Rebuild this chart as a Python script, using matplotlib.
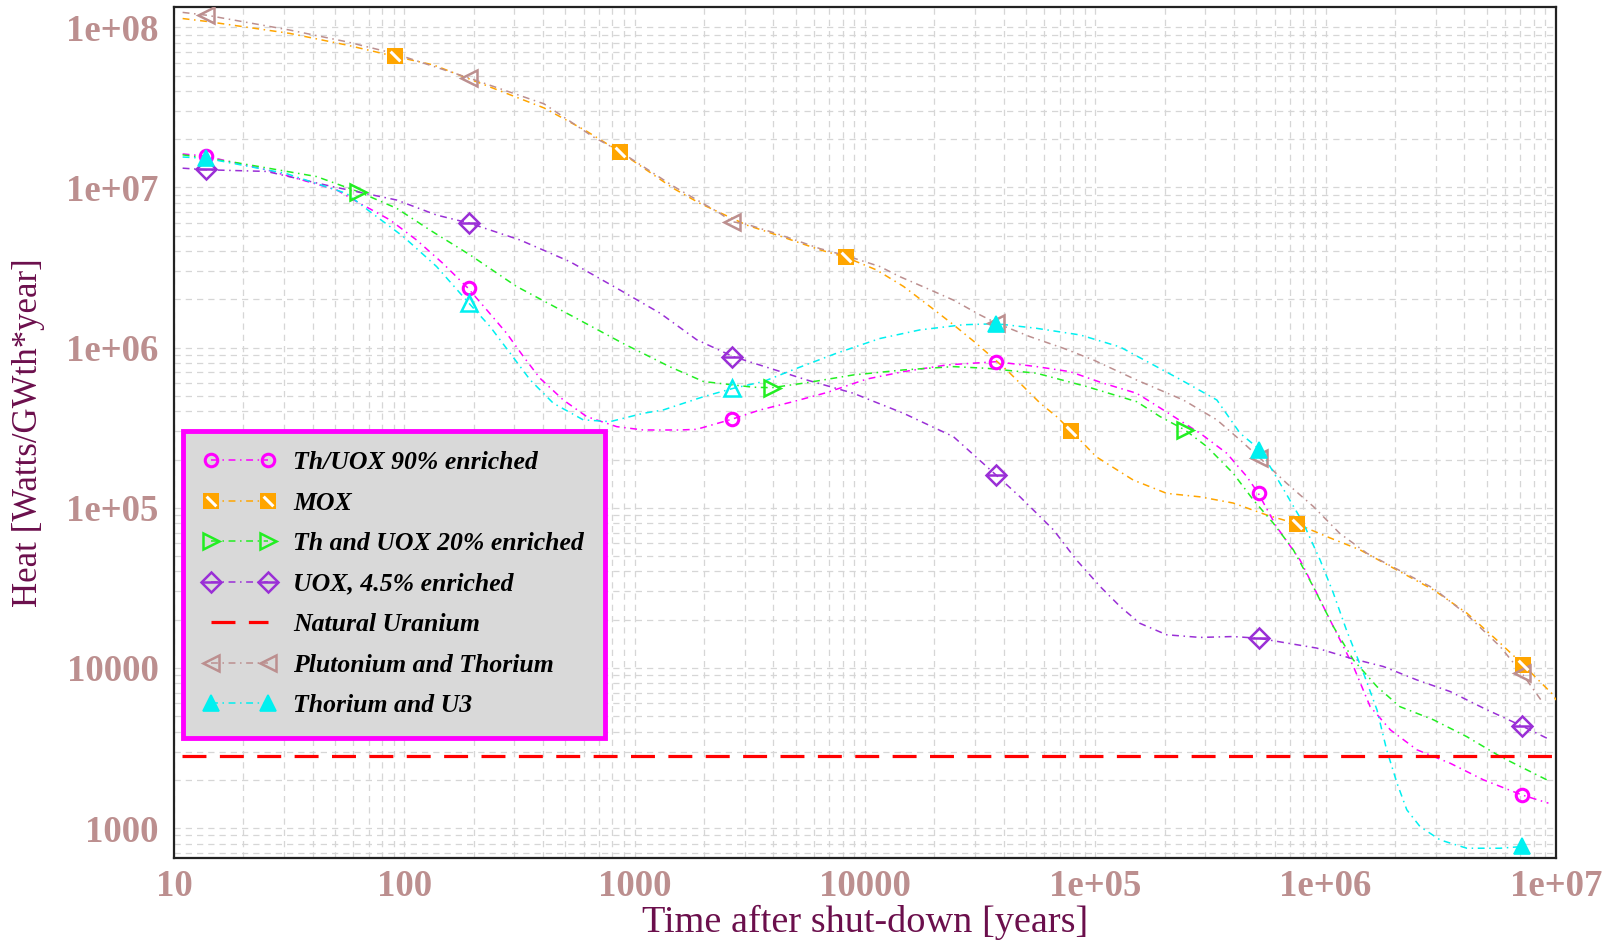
import matplotlib.pyplot as plt
import numpy as np
from matplotlib.lines import Line2D
from matplotlib.path import Path
from matplotlib.font_manager import FontProperties
from matplotlib.ticker import LogLocator, NullFormatter, FixedLocator, FixedFormatter

# heat curves: time after shut-down [years] -> heat [W/GWth*year]
thuox90_t = [10.9, 13.7, 25.2, 50.8, 62.1, 86.7, 113, 147, 188, 228, 278, 329, 388, 490, 619, 836,
             1090, 1570, 1860, 2640, 3500, 4880, 6820, 10200, 14700, 22700, 37100, 55600, 77600,
             108000, 151000, 173000, 285000, 372000, 454000, 510000, 612000, 774000, 914000,
             1.08e6, 1.32e6, 1.56e6, 1.91e6, 2.49e6, 3.47e6, 4.84e6, 7.11e6, 9.27e6]
thuox90_q = [1.62e7, 1.57e7, 1.29e7, 9.66e6, 8.17e6, 6.27e6, 4.70e6, 3.36e6, 2.37e6, 1.72e6, 1.23e6,
             8.79e5, 6.44e5, 4.71e5, 3.71e5, 3.21e5, 3.06e5, 3.06e5, 3.09e5, 3.57e5, 4.08e5, 4.60e5,
             5.24e5, 6.37e5, 7.08e5, 7.80e5, 8.17e5, 7.61e5, 7.08e5, 6.00e5, 5.19e5, 4.60e5, 2.92e5,
             2.19e5, 1.57e5, 1.23e5, 76200, 47200, 29300, 18100, 10200, 5730, 4100, 3080, 2540,
             2000, 1610, 1430]

mox_t = [10.9, 13.8, 31.8, 56.1, 91.4, 134, 244, 404, 611, 863, 1470, 1920, 3060, 4140, 6380,
         8280, 11200, 14700, 19200, 24200, 30500, 41200, 57600, 67900, 79100, 101000, 146000,
         204000, 285000, 397000, 555000, 750000, 1.01e6, 1.41e6, 2.10e6, 2.94e6, 4.10e6, 5.72e6,
         7.18e6, 9.73e6, 1.0e7]
mox_q = [1.135e8, 1.09e8, 9.17e7, 7.76e7, 6.58e7, 5.82e7, 4.16e7, 3.14e7, 2.27e7, 1.67e7, 9.89e6,
         7.96e6, 5.83e6, 5.05e6, 4.08e6, 3.66e6, 3.06e6, 2.41e6, 1.80e6, 1.39e6, 1.06e6, 7.26e5,
         4.50e5, 3.71e5, 2.99e5, 2.08e5, 1.49e5, 1.23e5, 1.17e5, 1.07e5, 90100, 79300, 66100,
         54600, 39900, 30700, 22000, 14300, 10500, 6780, 6300]

thuox20_t = [10.9, 18.1, 41.6, 63.1, 92.7, 129, 193, 307, 524, 893, 1420, 1990, 3270, 3940, 5590,
             8890, 14700, 24200, 33700, 55600, 91800, 151000, 191000, 245000, 305000, 397000,
             485000, 593000, 724000, 883000, 1.08e6, 1.32e6, 1.67e6, 2.10e6, 2.94e6, 4.10e6,
             5.72e6, 9.12e6]
thuox20_q = [1.60e7, 1.44e7, 1.17e7, 9.42e6, 7.41e6, 5.43e6, 3.79e6, 2.41e6, 1.60e6, 1.06e6,
             7.60e5, 6.14e5, 5.66e5, 5.62e5, 6.04e5, 6.75e5, 7.26e5, 7.61e5, 7.43e5, 6.92e5,
             5.71e5, 4.60e5, 3.71e5, 3.06e5, 2.41e5, 1.64e5, 1.12e5, 80000, 54600, 32200, 18100,
             11200, 7640, 5730, 4740, 3720, 2800, 2000]

uox_t = [10.9, 13.9, 25.2, 49.2, 92.7, 138, 193, 318, 524, 863, 1290, 1860, 2680, 3870, 5590,
         8890, 14700, 24200, 37100, 47100, 65800, 82600, 105000, 128000, 156000, 204000, 285000,
         397000, 515000, 678000, 914000, 1.28e6, 1.78e6, 2.49e6, 3.47e6, 4.84e6, 7.18e6, 9.27e6]
uox_q = [1.32e7, 1.29e7, 1.26e7, 1.01e7, 8.35e6, 6.73e6, 5.97e6, 4.70e6, 3.44e6, 2.29e6, 1.64e6,
         1.12e6, 8.79e5, 7.43e5, 6.28e5, 5.19e5, 3.89e5, 2.78e5, 1.60e5, 1.17e5, 72800, 47400,
         32200, 24200, 19000, 16100, 15500, 15700, 15300, 14300, 13300, 11500, 10200, 8410,
         7120, 5610, 4310, 3600]

puth_t = [10.9, 13.9, 31.8, 56.1, 90.4, 193, 404, 661, 857, 1470, 2350, 2640, 3060, 4140, 6380,
          8280, 11600, 14200, 18500, 24200, 31600, 37300, 52100, 72600, 98000, 151000, 241000,
          337000, 425000, 519000, 678000, 883000, 1.15e6, 1.51e6, 2.10e6, 2.94e6, 4.10e6,
          5.72e6, 7.11e6, 8.81e6]
puth_q = [1.24e8, 1.19e8, 9.62e7, 8.13e7, 6.87e7, 4.80e7, 3.33e7, 2.07e7, 1.69e7, 1.02e7, 6.89e6,
          6.12e6, 5.9e6, 5.15e6, 4.15e6, 3.75e6, 3.21e6, 2.77e6, 2.35e6, 1.98e6, 1.60e6, 1.42e6,
          1.17e6, 9.91e5, 8.38e5, 6.28e5, 4.71e5, 3.54e5, 2.65e5, 2.04e5, 1.42e5, 1.02e5, 69300,
          52000, 40500, 31400, 21500, 13600, 9270, 6010]

thu3_t = [10.9, 13.9, 30.8, 56.1, 71, 99.1, 138, 191, 236, 288, 352, 443, 598, 782, 1090, 1330,
          1990, 2680, 3620, 5060, 7530, 11600, 17300, 26700, 37300, 55600, 85900, 128000, 235000,
          337000, 425000, 519000, 634000, 800000, 946000, 1.08e6, 1.23e6, 1.46e6, 1.67e6,
          1.84e6, 2.04e6, 2.25e6, 2.57e6, 3.14e6, 4.10e6, 5.72e6, 7.18e6]
thu3_q = [1.55e7, 1.52e7, 1.22e7, 9.18e6, 7.06e6, 4.93e6, 3.21e6, 1.89e6, 1.35e6, 9.23e5, 6.28e5,
          4.50e5, 3.54e5, 3.45e5, 3.89e5, 4.08e5, 4.94e5, 5.57e5, 6.14e5, 7.43e5, 9.23e5, 1.14e6,
          1.29e6, 1.39e6, 1.41e6, 1.32e6, 1.20e6, 1.01e6, 6.3e5, 4.71e5, 2.92e5, 2.30e5, 1.42e5,
          80000, 47200, 29300, 17300, 9270, 5470, 3080, 1910, 1300, 1020, 843, 748, 748, 767]

# marker positions
mark_t = [13.8, 190, 2650, 37100, 515000, 7.15e6]
thuox90_mq = [1.57e7, 2.37e6, 3.57e5, 8.17e5, 1.23e5, 1610]
uox_mq = [1.30e7, 5.97e6, 8.79e5, 1.60e5, 15300, 4310]
puth_mq = [1.19e8, 4.80e7, 6.12e6, 1.42e6, 2.04e5, 9270]
thu3_mq = [1.52e7, 1.89e6, 5.57e5, 1.41e6, 2.30e5, 767]
thu3_filled = [True, False, False, True, True, True]
mox_mt = [91.4, 860, 8300, 78700, 750000, 7.18e6]
mox_mq = [6.58e7, 1.67e7, 3.66e6, 3.0e5, 79300, 10500]
thuox20_mt = [63.1, 3940, 245000]
thuox20_mq = [9.42e6, 5.62e5, 3.06e5]

natural_u = 2800

x_ticks = [10, 100, 1000, 1e4, 1e5, 1e6, 1e7]
x_labels = ['10', '100', '1000', '10000', '1e+05', '1e+06', '1e+07']
y_ticks = [1e3, 1e4, 1e5, 1e6, 1e7, 1e8]
y_labels = ['1000', '10000', '1e+05', '1e+06', '1e+07', '1e+08']

C_MAG = '#ff00ff'
C_ORA = '#ffa500'
C_GRN = '#22ee22'
C_PUR = '#9a2fd6'
C_BRN = '#bc8f8f'
C_CYA = '#00f0f0'
SERIF = 'Liberation Serif'

dashdot = (0, (4.5, 3, 1, 3))
diag = Path([(-1, 1), (1, -1)], [Path.MOVETO, Path.LINETO])

fig = plt.figure(figsize=(16.1, 9.41), dpi=100)
ax = fig.add_axes([174 / 1610, 1 - 858 / 941, 1382 / 1610, 851 / 941])
ax.set_xscale('log')
ax.set_yscale('log')
ax.set_xlim(10, 1e7)
ax.set_ylim(650, 1.34e8)

# curves
kw = dict(lw=1.1, ls=dashdot, zorder=3)
ax.plot(thuox90_t, thuox90_q, color=C_MAG, **kw)
ax.plot(mox_t, mox_q, color=C_ORA, **kw)
ax.plot(thuox20_t, thuox20_q, color=C_GRN, **kw)
ax.plot(uox_t, uox_q, color=C_PUR, **kw)
ax.plot(puth_t, puth_q, color=C_BRN, **kw)
ax.plot(thu3_t, thu3_q, color=C_CYA, **kw)
ax.axhline(natural_u, xmin=0.006, color='#ff0000', lw=2.3, ls=(0, (7.5, 4.2)), zorder=3)

# markers
ax.plot(mark_t, thuox90_mq, ls='none', marker='o', ms=9, mew=2.2, mfc='none', mec=C_MAG, zorder=4)
ax.plot(mox_mt, mox_mq, ls='none', marker='s', ms=12, mew=0, mfc=C_ORA, zorder=4)
ax.plot(mox_mt, mox_mq, ls='none', marker=diag, ms=7, mew=2.2, mec='white', zorder=5)
ax.plot(thuox20_mt, thuox20_mq, ls='none', marker='>', ms=12, mew=1.8, mfc='none', mec=C_GRN, zorder=4)
ax.plot(mark_t, uox_mq, ls='none', marker='D', ms=10, mew=1.8, mfc='none', mec=C_PUR, zorder=4)
ax.plot(mark_t, uox_mq, ls='none', marker='_', ms=14, mew=1.8, mec=C_PUR, zorder=4)
ax.plot(mark_t, puth_mq, ls='none', marker='<', ms=12, mew=1.8, mfc='none', mec=C_BRN, zorder=4)
filled_t = [t for t, f in zip(mark_t, thu3_filled) if f]
filled_q = [q for q, f in zip(thu3_mq, thu3_filled) if f]
open_t = [t for t, f in zip(mark_t, thu3_filled) if not f]
open_q = [q for q, f in zip(thu3_mq, thu3_filled) if not f]
ax.plot(filled_t, filled_q, ls='none', marker='^', ms=12, mew=1.2, mfc=C_CYA, mec=C_CYA, zorder=4)
ax.plot(open_t, open_q, ls='none', marker='^', ms=12, mew=1.8, mfc='none', mec=C_CYA, zorder=4)

# grid and axes
ax.grid(True, which='both', color='#d6d6d6', lw=0.9, ls=(0, (5, 4)), zorder=0)
ax.xaxis.set_minor_locator(LogLocator(base=10, subs=np.arange(2, 10)))
ax.yaxis.set_minor_locator(LogLocator(base=10, subs=np.arange(2, 10)))
ax.xaxis.set_minor_formatter(NullFormatter())
ax.yaxis.set_minor_formatter(NullFormatter())
ax.xaxis.set_major_locator(FixedLocator(x_ticks))
ax.xaxis.set_major_formatter(FixedFormatter(x_labels))
ax.yaxis.set_major_locator(FixedLocator(y_ticks))
ax.yaxis.set_major_formatter(FixedFormatter(y_labels))
ax.tick_params(which='both', length=0)
ax.tick_params(axis='x', pad=8)
ax.tick_params(axis='y', pad=11)
for lab in ax.get_xticklabels() + ax.get_yticklabels():
    lab.set_fontfamily(SERIF)
    lab.set_fontweight('bold')
    lab.set_fontsize(26.5)
    lab.set_color(C_BRN)
for sp in ax.spines.values():
    sp.set_linewidth(1.6)
    sp.set_color('#222222')

ax.set_xlabel('Time after shut-down [years]', fontfamily=SERIF, fontsize=27.5, color='#6b0f4c', va='center')
ax.xaxis.set_label_coords(0.5, -(922 - 858) / 851)
ax.set_ylabel('Heat [Watts/GWth*year]', fontfamily=SERIF, fontsize=25, color='#6b0f4c', va='center')
ax.yaxis.set_label_coords(-(174 - 29) / 1382, 0.5)

# legend
hk = dict(lw=1.1, ls=dashdot)
handles = [
    Line2D([], [], color=C_MAG, marker='o', ms=9, mew=2.2, mfc='none', **hk),
    (Line2D([], [], color=C_ORA, marker='s', ms=12, mew=0, mfc=C_ORA, **hk),
     Line2D([], [], ls='none', marker=diag, ms=7, mew=2.2, mec='white')),
    Line2D([], [], color=C_GRN, marker='>', ms=12, mew=1.8, mfc='none', **hk),
    (Line2D([], [], color=C_PUR, marker='D', ms=10, mew=1.8, mfc='none', **hk),
     Line2D([], [], ls='none', marker='_', ms=14, mew=1.8, mec=C_PUR)),
    Line2D([], [], color='#ff0000', lw=2.3, ls=(0, (7.5, 4.2))),
    Line2D([], [], color=C_BRN, marker='<', ms=12, mew=1.8, mfc='none', **hk),
    Line2D([], [], color=C_CYA, marker='^', ms=12, mew=1.2, mfc=C_CYA, **hk),
]
labels = ['Th/UOX 90% enriched', 'MOX', 'Th and UOX 20% enriched', 'UOX, 4.5% enriched',
          'Natural Uranium', 'Plutonium and Thorium', 'Thorium and U3']
leg = ax.legend(handles, labels, loc='upper left', bbox_to_anchor=(0.0065, 0.502),
                borderaxespad=0, numpoints=2, handlelength=2.8, handletextpad=0.7,
                labelspacing=0.68, borderpad=0.8, fancybox=False, framealpha=1,
                facecolor='#d9d9d9', edgecolor='#ff00ff',
                prop=FontProperties(family=SERIF, weight='bold', style='italic', size=18.5))
leg.get_frame().set_linewidth(3.5)
leg.set_zorder(10)

fig.savefig('out.png', dpi=100)
